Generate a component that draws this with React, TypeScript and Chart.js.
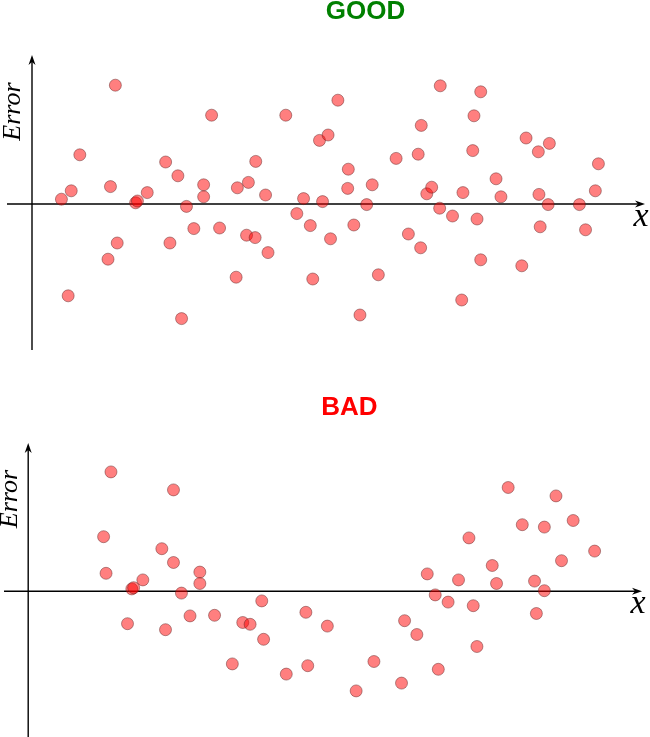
import React, { useEffect, useRef } from "react";
import { Chart, registerables } from "chart.js";

Chart.register(...registerables);

// ---- data (x position, error) ----
const goodX = [0.48, 0.64, 0.78, 0.59, 1.36, 1.28, 1.24, 1.39, 1.69, 1.72, 1.88, 2.18, 2.38, 2.25, 2.44, 2.52, 2.8, 2.8, 2.64, 2.93, 3.06, 3.33, 3.35, 3.53, 3.5, 3.64, 3.65, 3.81, 3.85, 4.14, 4.32, 4.43, 4.54, 4.58, 4.69, 4.74, 4.83, 4.87, 4.99, 5.15, 5.16, 5.25, 5.35, 5.46, 5.55, 5.65, 5.94, 6.14, 6.3, 6.35, 6.34, 6.44, 6.52, 6.65, 6.66, 6.86, 7.01, 7.03, 7.21, 7.19, 7.26, 7.32, 7.32, 7.57, 7.65, 7.99, 8.06, 8.26, 8.27, 8.29, 8.44, 8.42, 8.93, 9.03, 9.24, 9.19];
const goodErr = [0.08, 0.22, 0.82, -1.53, 1.98, 0.29, -0.92, -0.65, 0.02, 0.05, 0.19, 0.7, 0.47, -0.65, -1.91, -0.04, 0.32, 0.12, -0.41, 1.48, -0.4, -1.22, 0.27, 0.36, -0.52, -0.56, 0.71, 0.15, -0.81, 1.48, -0.16, 0.09, -0.36, -1.25, 1.06, 0.04, 1.15, -0.58, 1.73, 0.26, 0.58, -0.35, -1.85, -0.01, 0.32, -1.18, 0.76, -0.5, 0.83, 1.31, -0.73, 0.17, 0.28, -0.07, 1.97, -0.2, -1.6, 0.19, 1.47, 0.89, -0.25, -0.93, 1.87, 0.42, 0.12, -1.03, 1.1, 0.87, 0.16, -0.38, 1.01, -0.01, -0.01, -0.43, 0.67, 0.22];

const badX = [1.35, 1.23, 1.27, 1.62, 1.69, 1.72, 1.87, 2.18, 2.37, 2.37, 2.24, 2.5, 2.8, 2.8, 2.64, 3.04, 3.33, 3.5, 3.62, 3.81, 3.84, 4.21, 4.53, 4.56, 4.88, 5.35, 5.64, 6.09, 6.14, 6.34, 6.51, 6.64, 6.69, 6.85, 7.02, 7.19, 7.26, 7.32, 7.57, 7.64, 7.83, 8.06, 8.26, 8.29, 8.42, 8.42, 8.61, 8.7, 8.89, 9.24];
const badErr = [1.99, 0.91, 0.3, -0.54, 0.04, 0.06, 0.19, 0.71, 1.69, 0.48, -0.64, -0.03, 0.32, 0.13, -0.41, -0.4, -1.21, -0.52, -0.55, -0.16, -0.8, -1.38, -0.35, -1.24, -0.58, -1.66, -1.17, -1.53, -0.49, -0.72, 0.29, -0.06, -1.3, -0.18, 0.19, 0.89, -0.24, -0.92, 0.43, 0.13, 1.73, 1.11, 0.17, -0.37, 1.07, 0.01, 1.59, 0.51, 1.18, 0.67];

const panelTitles = ["GOOD", "BAD"];
const titleColors = ["#008000", "#ff0000"];
const yAxisLabel = "Error";
const xAxisLabel = "x";

type PanelSpec = {
  xs: number[];
  ys: number[];
  title: string;
  titleColor: string;
  height: number;
  pad: { left: number; right: number; top: number; bottom: number };
  xRange: [number, number];
  yRange: [number, number];
  titlePos: [number, number];
  yLabelPos: [number, number];
};

const axesPlugin = {
  id: "arrowAxes",
  beforeDatasetsDraw(chart: any) {
    const { ctx, chartArea } = chart;
    const x0 = chart.scales.x.getPixelForValue(0);
    const y0 = chart.scales.y.getPixelForValue(0);
    ctx.save();
    ctx.strokeStyle = "#000";
    ctx.fillStyle = "#000";
    ctx.lineWidth = 1.4;
    // x axis
    ctx.beginPath();
    ctx.moveTo(chartArea.left, y0);
    ctx.lineTo(chartArea.right - 4, y0);
    ctx.stroke();
    // y axis
    ctx.beginPath();
    ctx.moveTo(x0, chartArea.bottom);
    ctx.lineTo(x0, chartArea.top + 4);
    ctx.stroke();
    // arrow heads
    const L = 10, W = 3.5, N = 7;
    ctx.beginPath();
    ctx.moveTo(chartArea.right, y0);
    ctx.lineTo(chartArea.right - L, y0 - W);
    ctx.lineTo(chartArea.right - N, y0);
    ctx.lineTo(chartArea.right - L, y0 + W);
    ctx.closePath();
    ctx.fill();
    ctx.beginPath();
    ctx.moveTo(x0, chartArea.top);
    ctx.lineTo(x0 - W, chartArea.top + L);
    ctx.lineTo(x0, chartArea.top + N);
    ctx.lineTo(x0 + W, chartArea.top + L);
    ctx.closePath();
    ctx.fill();
    ctx.restore();
  },
  afterDraw(chart: any, _args: any, opts: any) {
    const { ctx, chartArea } = chart;
    const y0 = chart.scales.y.getPixelForValue(0);
    ctx.save();
    // title
    ctx.font = "bold 26px 'Liberation Sans', Arial, sans-serif";
    ctx.fillStyle = opts.titleColor;
    ctx.textAlign = "center";
    ctx.textBaseline = "alphabetic";
    ctx.fillText(opts.title, opts.titlePos[0], opts.titlePos[1]);
    // x label
    ctx.fillStyle = "#000";
    ctx.font = "italic 34px 'Liberation Serif', 'DejaVu Serif', serif";
    ctx.textBaseline = "middle";
    ctx.fillText(xAxisLabel, chartArea.right - 4, y0 + 13);
    // y label
    ctx.font = "italic 26px 'Liberation Serif', 'DejaVu Serif', serif";
    ctx.translate(opts.yLabelPos[0], opts.yLabelPos[1]);
    ctx.rotate(-Math.PI / 2);
    ctx.fillText(yAxisLabel, 0, 0);
    ctx.restore();
  },
};

function Panel({ spec }: { spec: PanelSpec }) {
  const ref = useRef<HTMLCanvasElement>(null);
  useEffect(() => {
    if (!ref.current) return;
    const chart = new Chart(ref.current, {
      type: "scatter",
      data: {
        datasets: [
          {
            data: spec.xs.map((x, i) => ({ x, y: spec.ys[i] })),
            backgroundColor: "rgba(255,0,0,0.5)",
            borderColor: "rgba(90,30,30,0.45)",
            borderWidth: 1,
            pointRadius: 6,
            pointHoverRadius: 6,
            clip: false as any,
          },
        ],
      },
      options: {
        animation: false,
        responsive: false,
        layout: { padding: spec.pad, autoPadding: false } as any,
        scales: {
          x: { type: "linear", display: false, min: spec.xRange[0], max: spec.xRange[1] },
          y: { type: "linear", display: false, min: spec.yRange[0], max: spec.yRange[1] },
        },
        plugins: {
          legend: { display: false },
          tooltip: { enabled: false },
          title: { display: false },
          arrowAxes: {
            title: spec.title,
            titleColor: spec.titleColor,
            titlePos: spec.titlePos,
            yLabelPos: spec.yLabelPos,
          },
        } as any,
      },
      plugins: [axesPlugin],
    });
    return () => chart.destroy();
  }, [spec]);
  return <canvas ref={ref} width={650} height={spec.height} style={{ display: "block" }} />;
}

const specs: PanelSpec[] = [
  {
    xs: goodX,
    ys: goodErr,
    title: panelTitles[0],
    titleColor: titleColors[0],
    height: 370,
    pad: { left: 7, right: 5, top: 55, bottom: 20 },
    xRange: [-25 / 61.3, 613 / 61.3],
    yRange: [-146 / 60, 149 / 60],
    titlePos: [365.5, 19],
    yLabelPos: [13, 111.5],
  },
  {
    xs: badX,
    ys: badErr,
    title: panelTitles[1],
    titleColor: titleColors[1],
    height: 367,
    pad: { left: 4, right: 8, top: 73, bottom: 0 },
    xRange: [-24.2 / 61.3, 613.8 / 61.3],
    yRange: [-145.7 / 60, 148.3 / 60],
    titlePos: [349.3, 45],
    yLabelPos: [10, 129],
  },
];

export default function App() {
  return (
    <div style={{ position: "fixed", left: 0, top: 0, width: 650, height: 737, background: "#fff" }}>
      <Panel spec={specs[0]} />
      <Panel spec={specs[1]} />
    </div>
  );
}
